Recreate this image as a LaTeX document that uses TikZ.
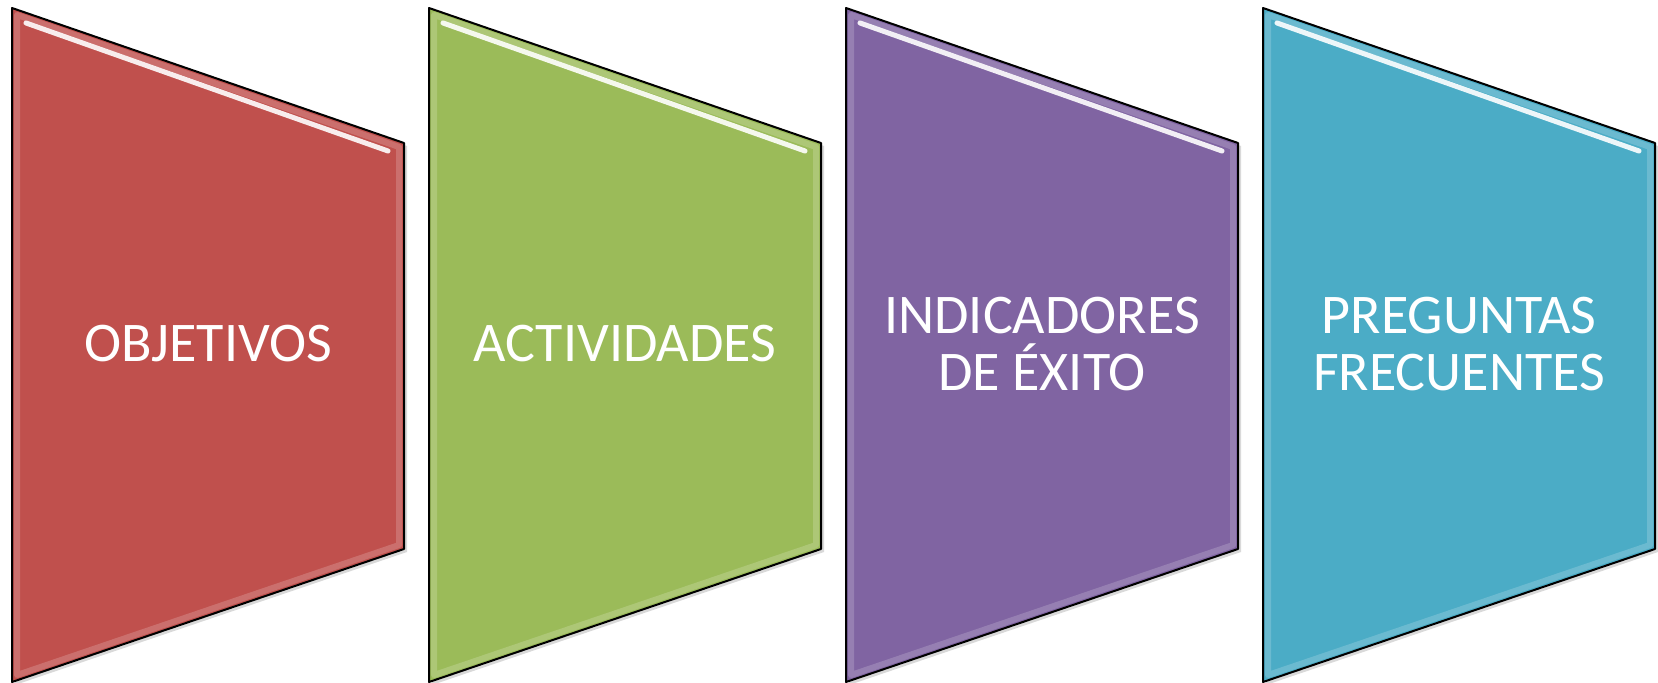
\documentclass[tikz,border=0pt]{standalone}
\usepackage{fontspec}
\setmainfont{Carlito}
\usepackage{tikz}

\definecolor{objred}{HTML}{C0504D}
\definecolor{actgreen}{HTML}{9BBB59}
\definecolor{indpurple}{HTML}{8064A2}
\definecolor{pregblue}{HTML}{4BACC6}

\begin{document}
\begin{tikzpicture}[x=0.5pt,y=-0.5pt]
 \tikzstyle{every path}=[line join=round]

\tikzstyle{panel}=[draw=black,line width=1pt]
\tikzstyle{panelshadow}=[fill=black,opacity=0.15]
\tikzstyle{bevel}=[line width=3pt,opacity=0.18]
\tikzstyle{gloss}=[draw=white,line width=2.5pt,line cap=round,opacity=0.9]
\tikzstyle{paneltext}=[text=white,align=center,font=\fontsize{28}{28.5}\selectfont]

\useasboundingbox (0,0) rectangle (1658,683);

%% Draw the four panels
\foreach \i/\col/\name/\txt in {0/objred/obj/OBJETIVOS,
                                1/actgreen/act/ACTIVIDADES,
                                2/indpurple/ind/{INDICADORES\\DE ÉXITO},
                                3/pregblue/preg/{PREGUNTAS\\FRECUENTES}} {
    \pgfmathsetmacro\xa{12+417*\i}
    \pgfmathsetmacro\xb{\xa+392}
    % shadow
    \fill [panelshadow] (\xa+3,11) -- (\xb+3,146) -- (\xb+3,552) -- (\xa+3,685) -- cycle;
    % body
    \fill [\col] (\xa,8) -- (\xb,143) -- (\xb,549) -- (\xa,682) -- cycle;
    \draw [bevel,draw=white] (\xa+5,15) -- (\xb-5,147) -- (\xb-5,545) -- (\xa+5,675) -- cycle;
    \draw [gloss] (\xa+14,23) -- (\xb-16,151);
    \draw [panel] (\xa,8) -- (\xb,143) -- (\xb,549) -- (\xa,682) -- cycle;
    % label
    \node [paneltext] (\name) at (\xa+196,344) {\txt};
}

\end{tikzpicture}
\end{document}
